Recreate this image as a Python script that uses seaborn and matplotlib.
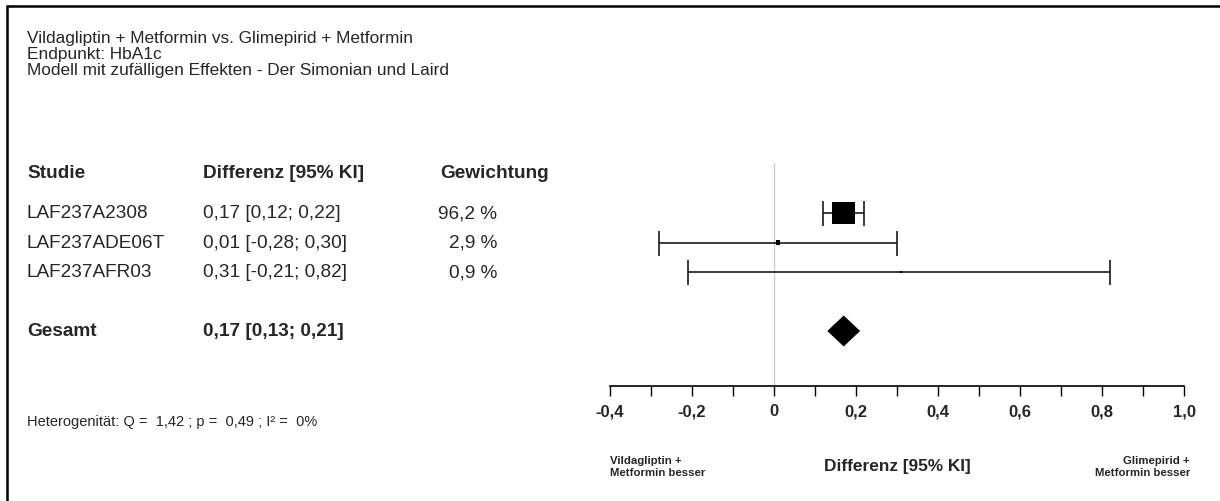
import matplotlib
matplotlib.use("Agg")
import matplotlib.pyplot as plt
import matplotlib.transforms as mtransforms
from matplotlib.patches import Rectangle
from matplotlib.ticker import FixedLocator, MultipleLocator
import numpy as np
import pandas as pd
import seaborn as sns

# ---- data -------------------------------------------------------------
title_lines = [
    "Vildagliptin + Metformin vs. Glimepirid + Metformin",
    "Endpunkt: HbA1c",
    "Modell mit zufälligen Effekten - Der Simonian und Laird",
]
column_headers = ["Studie", "Differenz [95% KI]", "Gewichtung"]
studies = ["LAF237A2308", "LAF237ADE06T", "LAF237AFR03"]
estimates = [0.17, 0.01, 0.31]
ci_lower = [0.12, -0.28, -0.21]
ci_upper = [0.22, 0.30, 0.82]
weights = [96.2, 2.9, 0.9]

pooled_label = "Gesamt"
pooled_estimate = 0.17
pooled_lower = 0.13
pooled_upper = 0.21

het_q = 1.42
het_p = 0.49
het_i2 = 0

x_ticks = [-0.4, -0.2, 0.0, 0.2, 0.4, 0.6, 0.8, 1.0]
x_tick_labels = ["-0,4", "-0,2", "0", "0,2", "0,4", "0,6", "0,8", "1,0"]
x_label = "Differenz [95% KI]"
left_side_label = "Vildagliptin +\nMetformin besser"
right_side_label = "Glimepirid +\nMetformin besser"


def de(v, digits=2):
    return f"{v:.{digits}f}".replace(".", ",")


# ---- figure setup ------------------------------------------------------
W, H = 1220, 502
sns.set_theme(style="white")
plt.rcParams["font.family"] = ["Liberation Sans", "DejaVu Sans"]

fig = plt.figure(figsize=(W / 100, H / 100), dpi=100)
fig.patch.set_facecolor("white")


def fx(px):
    return px / W


def fy(py):
    return 1 - py / H


# plot area: x-axis from -0,4 to 1,0; rows are stacked top to bottom
row_top_px, row_step_px = 214, 29.5
ax_top_px, ax_bottom_px = 164, 387
ax_left_px, ax_right_px = 610, 1184
ax = fig.add_axes([fx(ax_left_px), fy(ax_bottom_px),
                   fx(ax_right_px - ax_left_px), (ax_bottom_px - ax_top_px) / H])
ax.set_facecolor("none")

rows = np.arange(len(studies))
pooled_row = len(studies) + 1

df = pd.DataFrame({
    "Studie": studies,
    "Differenz": estimates,
    "lo": ci_lower,
    "hi": ci_upper,
    "Gewichtung": weights,
    "row": rows,
})

# vertical reference line at zero
ax.axvline(0, color="#cccccc", lw=1.0, zorder=0)

# confidence intervals
ax.errorbar(df["Differenz"], df["row"],
            xerr=[df["Differenz"] - df["lo"], df["hi"] - df["Differenz"]],
            fmt="none", ecolor="#1a1a1a", elinewidth=1.2, capsize=9,
            capthick=1.2, zorder=2)

# study squares, area proportional to weight
sns.scatterplot(data=df, x="Differenz", y="row", size="Gewichtung",
                sizes=(2.6, 274), size_norm=(min(weights), max(weights)),
                marker="s", color="black", linewidth=0, legend=False,
                ax=ax, zorder=3)

# pooled estimate diamond
half_h = 15.5 / row_step_px
ax.fill([pooled_lower, pooled_estimate, pooled_upper, pooled_estimate],
        [pooled_row, pooled_row - half_h, pooled_row, pooled_row + half_h],
        color="black", lw=0, zorder=3)

# axis scaling
ax.set_xlim(x_ticks[0], x_ticks[-1])
y_bottom = (ax_bottom_px - row_top_px) / row_step_px
y_top = (ax_top_px - row_top_px) / row_step_px
ax.set_ylim(y_bottom, y_top)

for side in ["left", "top", "right"]:
    ax.spines[side].set_visible(False)
ax.spines["bottom"].set_color("black")
ax.spines["bottom"].set_linewidth(1.2)
ax.set_yticks([])
ax.xaxis.set_major_locator(FixedLocator(x_ticks))
ax.xaxis.set_minor_locator(MultipleLocator(0.1))
ax.set_xticklabels(x_tick_labels, fontsize=12, fontweight="bold")
ax.tick_params(axis="x", which="both", direction="out", length=7.5,
               width=1.0, color="black", bottom=True, pad=5)
ax.set_xlabel("")
ax.set_ylabel("")

# ---- text table ---------------------------------------------------------
row_tf = mtransforms.blended_transform_factory(fig.transFigure, ax.transData)
col_x = [fx(27), fx(203), fx(440)]
weight_right = fx(497)
header_row = (174 - row_top_px) / row_step_px
table_fs = 13.7

for x, h in zip(col_x, column_headers):
    fig.text(x, header_row, h, transform=row_tf, fontsize=table_fs,
             fontweight="bold", va="center", ha="left")

for s, e, lo, hi, w, r in zip(studies, estimates, ci_lower, ci_upper, weights, rows):
    fig.text(col_x[0], r, s, transform=row_tf, fontsize=table_fs, va="center")
    fig.text(col_x[1], r, f"{de(e)} [{de(lo)}; {de(hi)}]", transform=row_tf,
             fontsize=table_fs, va="center")
    fig.text(weight_right, r, f"{de(w, 1)} %", transform=row_tf,
             fontsize=table_fs, va="center", ha="right")

fig.text(col_x[0], pooled_row, pooled_label, transform=row_tf, fontsize=table_fs,
         fontweight="bold", va="center")
fig.text(col_x[1], pooled_row,
         f"{de(pooled_estimate)} [{de(pooled_lower)}; {de(pooled_upper)}]",
         transform=row_tf, fontsize=table_fs, fontweight="bold", va="center")

# titles
for i, line in enumerate(title_lines):
    fig.text(fx(27), fy(38 + 16.5 * i), line, fontsize=12.4, va="center")

# heterogeneity
fig.text(fx(27), fy(422),
         f"Heterogenität: Q =  {de(het_q)} ; p =  {de(het_p)} ; I² =  {het_i2}%",
         fontsize=10.5, va="center")

# axis captions
fig.text(fx(ax_left_px), fy(467), left_side_label, fontsize=8.2,
         fontweight="bold", va="center", ha="left", linespacing=1.15)
fig.text(fx(ax_right_px + 6), fy(467), right_side_label, fontsize=8.2,
         fontweight="bold", va="center", ha="right", linespacing=1.15)
fig.text(fx((ax_left_px + ax_right_px) / 2), fy(467), x_label, fontsize=12.4,
         fontweight="bold", va="center", ha="center")

# outer frame (left and top edges visible)
fig.add_artist(Rectangle((fx(7), -0.2), 1.5, fy(7) + 0.2, transform=fig.transFigure,
                         fill=False, edgecolor="black", lw=1.8))

fig.savefig("out.png", dpi=100, facecolor="white")
